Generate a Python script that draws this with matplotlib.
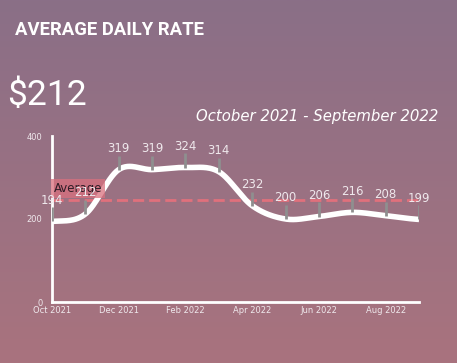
import numpy as np
import matplotlib
matplotlib.use("Agg")
import matplotlib.pyplot as plt
from matplotlib.colors import LinearSegmentedColormap

months = ["Oct 2021", "Nov 2021", "Dec 2021", "Jan 2022", "Feb 2022", "Mar 2022",
          "Apr 2022", "May 2022", "Jun 2022", "Jul 2022", "Aug 2022", "Sep 2022"]
rates = [194, 212, 319, 319, 324, 314, 232, 200, 206, 216, 208, 199]
y_ticks = [0, 200, 400]
headline = "$212"
period = "October 2021 - September 2022"

BG_TOP = "#8a6f87"
BG_BOTTOM = "#a9737e"
AVG_COLOR = "#e0707c"
LABEL_COLOR = "#efe8ec"


def catmull_rom(y, n=30):
    # cardinal spline through the points, endpoints duplicated
    y = np.asarray(y, float)
    p = np.concatenate([[y[0]], y, [y[-1]]])
    xs, ys = [], []
    for i in range(len(y) - 1):
        p0, p1, p2, p3 = p[i], p[i + 1], p[i + 2], p[i + 3]
        t = np.linspace(0, 1, n, endpoint=False)
        m1 = (p2 - p0) / 2
        m2 = (p3 - p1) / 2
        h00 = 2 * t**3 - 3 * t**2 + 1
        h10 = t**3 - 2 * t**2 + t
        h01 = -2 * t**3 + 3 * t**2
        h11 = t**3 - t**2
        xs.append(i + t)
        ys.append(h00 * p1 + h10 * m1 + h01 * p2 + h11 * m2)
    xs.append([len(y) - 1])
    ys.append([y[-1]])
    return np.concatenate(xs), np.concatenate(ys)


fig = plt.figure(figsize=(4.57, 3.63), dpi=100)

# background gradient
bg = fig.add_axes([0, 0, 1, 1], zorder=-1)
cmap = LinearSegmentedColormap.from_list("bg", [BG_TOP, BG_BOTTOM])
bg.imshow(np.linspace(0, 1, 256).reshape(-1, 1), aspect="auto", cmap=cmap,
          extent=[0, 1, 0, 1])
bg.axis("off")

fig.text(15 / 457, 1 - 30 / 363, "AVERAGE DAILY RATE", color="white",
         fontsize=13.3, fontweight="bold", family="Roboto", va="center")
fig.text(7 / 457, 1 - 96 / 363, headline, color="white", fontsize=25.5,
         family="Roboto", va="center")
fig.text(438 / 457, 1 - 116 / 363, period, color="white", fontsize=10.7,
         family="DejaVu Sans", style="italic", ha="right", va="center")

ax = fig.add_axes([52 / 457, 1 - 302 / 363, 367 / 457, 166 / 363])
ax.patch.set_alpha(0)
x = np.arange(len(rates))
sx, sy = catmull_rom(rates)
ax.plot(sx, sy, color="white", lw=4, solid_capstyle="butt", zorder=3)

avg = np.mean(rates)
ax.axhline(avg, color=AVG_COLOR, lw=2, dashes=(4, 1.8), zorder=2)
ax.text(0.05, avg + 12, "Average", color="#2e1c26", fontsize=8.5, family="DejaVu Sans",
        va="bottom", ha="left",
        bbox=dict(boxstyle="square,pad=0.25", fc="#d9707e", ec="none", alpha=0.75),
        zorder=4)

for xi, v in zip(x, rates):
    ax.plot([xi, xi], [v, v + 34], color="#8f8f8f", lw=2, zorder=4,
            solid_capstyle="butt")
    ax.text(xi, v + 35, str(v), color=LABEL_COLOR, fontsize=8.5, ha="center",
            va="bottom", family="DejaVu Sans", zorder=5)

ax.set_xlim(0, 11)
ax.set_ylim(0, 400)
ax.set_xticks(x[::2])
ax.set_xticklabels(months[::2])
ax.set_yticks(y_ticks)
ax.tick_params(length=0, colors=LABEL_COLOR, labelsize=6)
ax.tick_params(axis="y", pad=7)
ax.tick_params(axis="x", pad=3)
for lab in ax.get_xticklabels() + ax.get_yticklabels():
    lab.set_family("DejaVu Sans")
for side in ["top", "right"]:
    ax.spines[side].set_visible(False)
for side in ["left", "bottom"]:
    ax.spines[side].set_color("white")
    ax.spines[side].set_linewidth(2)
ax.spines["bottom"].set_bounds(0, 11)

fig.savefig("out.png", dpi=100)
